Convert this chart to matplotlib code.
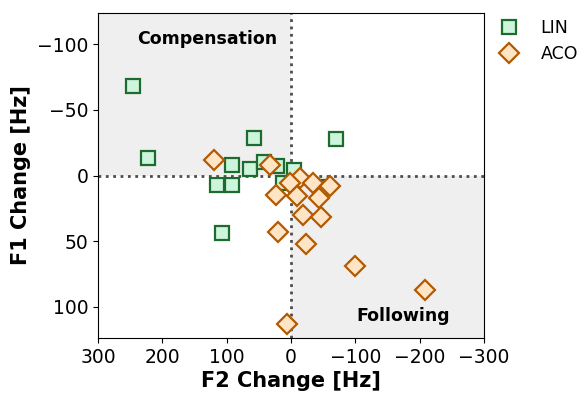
import matplotlib
matplotlib.use("Agg")
import matplotlib.pyplot as plt

# Formant changes (Hz) per speaker
lin_f2 = [246, 222, 58, -70, 92, 64, 42, 22, -4, 115, 91, 13, 107, -49]
lin_f1 = [-68, -13, -29, -28, -8, -5, -10, -7, -4, 7, 7, 6, 44, 9]

aco_f2 = [120, 33, -14, 1, -34, -60, 24, -9, -43, -18, -46, 21, -23, -100, -208, 6]
aco_f1 = [-12, -8, 2, 6, 6, 8, 15, 16, 17, 30, 32, 43, 52, 69, 87, 113]

xlim = (300, -300)
ylim = (124, -124)

fig = plt.figure(figsize=(5.85, 3.94), dpi=100)
ax = fig.add_axes([0.1675, 0.142, 0.66, 0.825])

shade = "#efefef"
ax.fill_between([0, xlim[0]], 0, ylim[1], color=shade, zorder=0, linewidth=0)
ax.fill_between([0, xlim[1]], 0, ylim[0], color=shade, zorder=0, linewidth=0)

ax.axhline(0, color="#4d4d4d", linestyle=":", linewidth=2, zorder=1)
ax.axvline(0, color="#4d4d4d", linestyle=":", linewidth=2, zorder=1)

ax.plot(lin_f2, lin_f1, linestyle="none", marker="s", markersize=9.5,
        markerfacecolor="#ccf5dc", markeredgecolor="#1d6b2e",
        markeredgewidth=1.6, label="LIN", zorder=3)
ax.plot(aco_f2, aco_f1, linestyle="none", marker="D", markersize=10,
        markerfacecolor="#ffe4c6", markeredgecolor="#b35a00",
        markeredgewidth=1.6, label="ACO", zorder=4)

ax.text(131, -104, "Compensation", fontsize=12.5, fontweight="bold",
        ha="center", va="center")
ax.text(-174, 107, "Following", fontsize=12.5, fontweight="bold",
        ha="center", va="center")

ax.set_xlim(*xlim)
ax.set_ylim(*ylim)
ax.set_xticks([300, 200, 100, 0, -100, -200, -300])
ax.set_yticks([-100, -50, 0, 50, 100])
ax.tick_params(labelsize=13.5)
ax.set_xlabel("F2 Change [Hz]", fontsize=15, fontweight="bold", labelpad=3)
ax.set_ylabel("F1 Change [Hz]", fontsize=15, fontweight="bold")

ax.legend(loc="upper left", bbox_to_anchor=(0.98, 1.03), frameon=False,
          fontsize=12.5, handletextpad=0.8, labelspacing=0.45)

fig.savefig("out.png", dpi=100)
